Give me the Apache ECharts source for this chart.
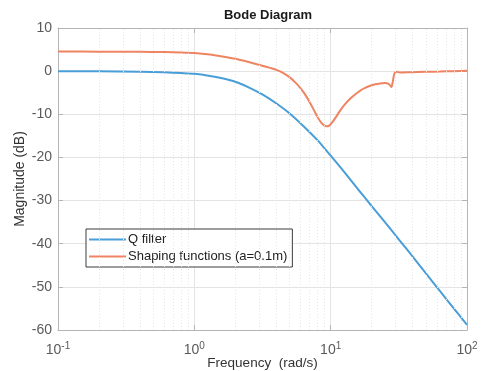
<!DOCTYPE html>
<html>
<head>
<meta charset="utf-8">
<script src="https://cdn.jsdelivr.net/npm/echarts@6/dist/echarts.min.js"></script>
<style>
  html, body { margin: 0; padding: 0; background: #fff; }
  #chart { width: 484px; height: 371px; }
</style>
</head>
<body>
<div id="chart"></div>
<script>
// Frequencies in rad/s, magnitudes in dB
const freqQ = [0.1, 0.2, 0.4, 0.6, 0.8, 1.0, 1.3, 1.6, 2.0, 2.5, 3.2, 4.0, 5.0, 6.3, 8.0,
               10, 12.6, 16, 20, 25, 32, 40, 50, 63, 80, 100];
const magQ  = [0, -0.03, -0.12, -0.27, -0.45, -0.62, -1.1, -1.65, -2.45, -3.75, -5.5, -7.5, -9.8, -12.7, -16.0,
               -19.6, -23.4, -27.5, -31.3, -35.0, -39.2, -43.0, -46.9, -50.9, -55.0, -58.8];

const freqS = [0.1, 0.2, 0.4, 0.6, 0.8, 1.0, 1.3, 1.6, 2.0, 2.5, 3.2, 3.59, 4.0, 4.5, 5.04, 5.5, 5.96,
               6.4, 6.9, 7.47, 8.0, 8.5, 8.9, 9.3, 9.7, 10.2, 10.8, 11.7, 12.8, 14.0, 15.1, 16.5, 17.9,
               19.5, 21.2, 23.0, 25.1, 26.4, 27.3, 27.9, 28.5, 29.0, 29.5, 30.2, 32.3, 38.3, 50, 63.5, 80, 100];
const magS  = [4.55, 4.52, 4.48, 4.42, 4.33, 4.2, 3.85, 3.4, 2.85, 2.1, 1.2, 0.75, 0.3, -0.45, -1.5, -2.6, -3.8,
               -5.1, -6.8, -8.8, -10.6, -11.9, -12.5, -12.8, -12.7, -12.0, -10.9, -9.2, -7.6, -6.3, -5.4, -4.5, -3.9,
               -3.4, -3.05, -2.85, -2.75, -2.9, -3.3, -3.7, -2.6, -1.2, -0.4, -0.15, -0.3, -0.25, -0.15, -0.1, 0, 0.1];

const seriesNames = ['Q filter', 'Shaping functions (a=0.1m)'];
const yTicks = { min: -60, max: 10, step: 10 };
const xRange = { min: 0.1, max: 100 };
// minor log grid positions (2..9 in each decade)
const minorFreqs = [0.2, 0.3, 0.4, 0.5, 0.6, 0.7, 0.8, 0.9,
                    2, 3, 4, 5, 6, 7, 8, 9,
                    20, 30, 40, 50, 60, 70, 80, 90];

const pairs = (xs, ys) => xs.map((x, i) => [x, ys[i]]);

const font = 'Liberation Sans, Arial, sans-serif';
const gridColor = '#e4e4e4';
const frameColor = '#b5b5b5';
const tickText = '#5a5a5a';

const chart = echarts.init(document.getElementById('chart'));
chart.setOption({
  animation: false,
  backgroundColor: '#fff',
  title: {
    text: 'Bode Diagram',
    left: 263, top: 4, textAlign: 'center',
    textStyle: { fontFamily: font, fontSize: 13, fontWeight: 'bold', color: '#1a1a1a' }
  },
  grid: { left: 58, right: 17, top: 28, bottom: 41, outerBoundsMode: 'none', containLabel: false },
  legend: {
    data: seriesNames,
    orient: 'vertical',
    left: 86, top: 229,
    backgroundColor: '#fff',
    borderColor: '#3a3a3a', borderWidth: 1,
    padding: [4, 5, 4, 3],
    itemGap: 4,
    itemWidth: 37, itemHeight: 2,
    icon: 'rect',
    textStyle: { fontFamily: font, fontSize: 13, color: '#222', padding: [0, 0, 0, -3] }
  },
  xAxis: [{
    type: 'log', logBase: 10, min: xRange.min, max: xRange.max,
    name: 'Frequency  (rad/s)', nameLocation: 'middle', nameGap: 26, nameMoveOverlap: false,
    nameTextStyle: { fontFamily: font, fontSize: 13.5, color: '#333' },
    axisLine: { show: true, onZero: false, lineStyle: { color: frameColor } },
    axisTick: { show: true, inside: true, length: 5, lineStyle: { color: frameColor } },
    splitLine: { show: true, lineStyle: { color: gridColor, width: 1 } },
    axisLabel: {
      margin: 11,
      formatter: v => '{b|10}{s|' + Math.round(Math.log10(v)) + '}',
      rich: {
        b: { fontFamily: font, fontSize: 14, color: tickText },
        s: { fontFamily: font, fontSize: 10, color: tickText, verticalAlign: 'top', padding: [0, 0, 9, 0] }
      }
    }
  }, {
    type: 'log', logBase: 10, min: xRange.min, max: xRange.max, position: 'top',
    axisLine: { show: true, onZero: false, lineStyle: { color: frameColor } },
    axisTick: { show: true, inside: true, length: 5, lineStyle: { color: frameColor } },
    axisLabel: { show: false },
    splitLine: { show: false }
  }],
  yAxis: [{
    type: 'value', min: yTicks.min, max: yTicks.max, interval: yTicks.step,
    name: 'Magnitude (dB)', nameLocation: 'middle', nameGap: 31, nameMoveOverlap: false,
    nameTextStyle: { fontFamily: font, fontSize: 14, color: '#333' },
    axisLine: { show: true, onZero: false, lineStyle: { color: frameColor } },
    axisTick: { show: true, inside: true, length: 5, lineStyle: { color: frameColor } },
    splitLine: { show: true, lineStyle: { color: gridColor, width: 1 } },
    axisLabel: { fontFamily: font, fontSize: 14, color: tickText, margin: 6 }
  }, {
    type: 'value', min: yTicks.min, max: yTicks.max, interval: yTicks.step, position: 'right',
    axisLine: { show: true, onZero: false, lineStyle: { color: frameColor } },
    axisTick: { show: true, inside: true, length: 5, lineStyle: { color: frameColor } },
    axisLabel: { show: false },
    splitLine: { show: false }
  }],
  series: [{
    name: 'minor grid',
    type: 'line',
    data: [],
    silent: true,
    z: 1,
    markLine: {
      silent: true,
      symbol: 'none',
      label: { show: false },
      animation: false,
      lineStyle: { color: '#e6e6e6', type: [1, 2], width: 1 },
      emphasis: { disabled: true },
      data: minorFreqs.map(f => ({ xAxis: f }))
    }
  }, {
    name: seriesNames[0],
    type: 'line',
    data: pairs(freqQ, magQ),
    showSymbol: false,
    smooth: 0.25,
    z: 3,
    color: '#4a9ed8',
    lineStyle: { width: 2, color: '#4a9ed8' }
  }, {
    name: seriesNames[1],
    type: 'line',
    data: pairs(freqS, magS),
    showSymbol: false,
    smooth: 0.25,
    z: 3,
    color: '#ee8462',
    lineStyle: { width: 2, color: '#ee8462' }
  }]
});
</script>
</body>
</html>
